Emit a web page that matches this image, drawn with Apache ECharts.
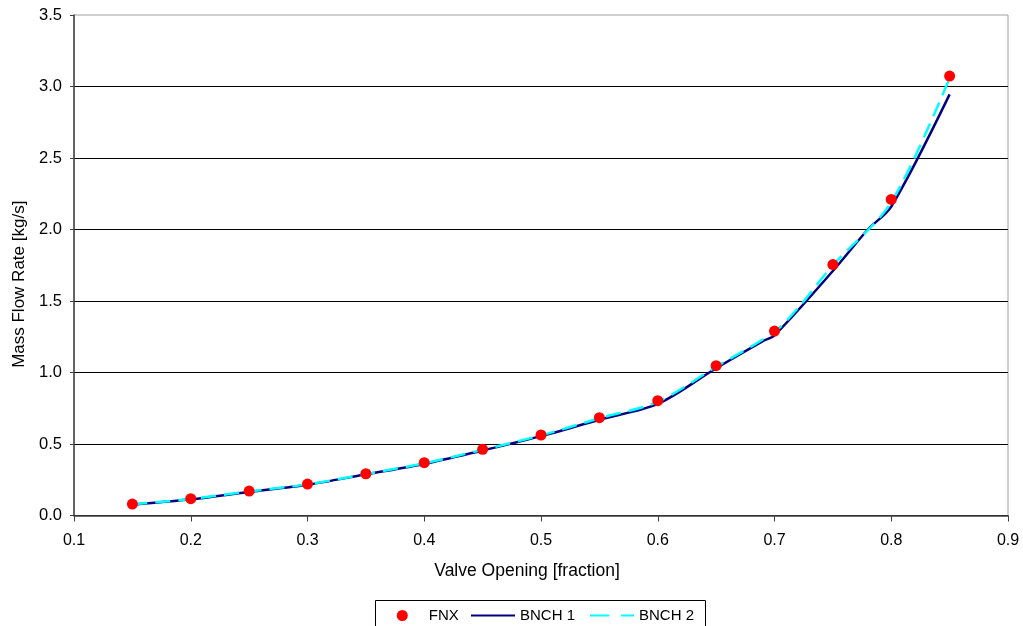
<!DOCTYPE html>
<html>
<head>
<meta charset="utf-8">
<script src="https://cdn.jsdelivr.net/npm/echarts@6/dist/echarts.min.js"></script>
<style>
  html, body { margin: 0; padding: 0; background: #fff; }
  #chart { width: 1023px; height: 626px; }
</style>
</head>
<body>
<div id="chart"></div>
<script>
// Data
const valveOpening = [0.15, 0.20, 0.25, 0.30, 0.35, 0.40, 0.45, 0.50, 0.55, 0.60, 0.65, 0.70, 0.75, 0.80, 0.85];
const fnx   = [0.080, 0.118, 0.171, 0.220, 0.292, 0.369, 0.463, 0.563, 0.684, 0.803, 1.048, 1.290, 1.755, 2.210, 3.073];

const bnch1X = [0.15, 0.20, 0.25, 0.30, 0.35, 0.40, 0.45, 0.50, 0.55, 0.60, 0.65, 0.69, 0.70, 0.75, 0.78, 0.80, 0.85];
const bnch1Y = [0.075, 0.113, 0.165, 0.215, 0.288, 0.360, 0.455, 0.555, 0.670, 0.780, 1.030, 1.220, 1.260, 1.710, 2.000, 2.160, 2.945];

const bnch2X = [0.15, 0.20, 0.25, 0.30, 0.35, 0.40, 0.45, 0.50, 0.55, 0.60, 0.65, 0.70, 0.72, 0.75, 0.80, 0.85];
const bnch2Y = [0.078, 0.116, 0.168, 0.218, 0.290, 0.365, 0.460, 0.560, 0.680, 0.795, 1.040, 1.285, 1.450, 1.750, 2.190, 3.060];

const xTicks = { min: 0.1, max: 0.9, interval: 0.1 };
const yTicks = { min: 0.0, max: 3.5, interval: 0.5 };

const zip = (xs, ys) => xs.map((x, i) => [x, ys[i]]);

const FONT = 'Liberation Sans, Arial, sans-serif';
const legendText = { fontFamily: FONT, fontSize: 15, color: '#000' };
const chart = echarts.init(document.getElementById('chart'), null, { renderer: 'canvas' });

chart.setOption({
  backgroundColor: '#ffffff',
  animation: false,
  grid: {
    left: 74, right: 15, top: 15, bottom: 110.5,
    show: true, borderColor: '#a0a0a0', borderWidth: 1
  },
  graphic: [{
    type: 'rect',
    z: 0,
    shape: { x: 375.5, y: 600.5, width: 330, height: 40 },
    style: { fill: '#fff', stroke: '#000', lineWidth: 1 }
  }],
  legend: [
    {
      left: 396.8, top: 608, padding: 0,
      itemWidth: 11, itemHeight: 11,
      textStyle: Object.assign({ padding: [0, 0, 0, 16] }, legendText),
      data: [{ name: 'FNX', icon: 'circle' }]
    },
    {
      left: 470, top: 608, padding: 0,
      itemWidth: 44, itemHeight: 11,
      itemStyle: { opacity: 0 },
      textStyle: legendText,
      data: [{ name: 'BNCH 1' }]
    },
    {
      left: 589, top: 608, padding: 0,
      itemWidth: 44, itemHeight: 11,
      itemStyle: { opacity: 0 },
      lineStyle: { type: [19, 12] },
      textStyle: legendText,
      data: [{ name: 'BNCH 2' }]
    }
  ],
  xAxis: {
    type: 'value',
    min: xTicks.min, max: xTicks.max, interval: xTicks.interval,
    name: 'Valve Opening [fraction]',
    nameLocation: 'middle',
    nameGap: 47,
    nameTextStyle: { fontFamily: FONT, fontSize: 17.5, color: '#000', padding: [0, 28, 0, 0] },
    axisLine: { show: true, onZero: false, lineStyle: { color: '#404040', width: 1.5 } },
    axisTick: { show: true, inside: false, length: 6, lineStyle: { color: '#404040' } },
    axisLabel: { fontFamily: FONT, fontSize: 16, color: '#000', margin: 17,
                 formatter: v => v.toFixed(1) },
    splitLine: { show: false }
  },
  yAxis: {
    type: 'value',
    min: yTicks.min, max: yTicks.max, interval: yTicks.interval,
    name: 'Mass Flow Rate [kg/s]',
    nameLocation: 'middle',
    nameGap: 45,
    nameTextStyle: { fontFamily: FONT, fontSize: 17, color: '#000', padding: [0, 38, 0, 0] },
    axisLine: { show: true, lineStyle: { color: '#404040', width: 1.5 } },
    axisTick: { show: true, inside: false, length: 4, lineStyle: { color: '#404040' } },
    axisLabel: { fontFamily: FONT, fontSize: 16.5, color: '#000', margin: 12,
                 formatter: v => v.toFixed(1) },
    splitLine: { show: true, showMaxLine: false, lineStyle: { color: '#000', width: 1 } }
  },
  series: [
    {
      name: 'BNCH 1',
      type: 'line',
      data: zip(bnch1X, bnch1Y),
      smooth: 0.3,
      symbol: 'none',
      lineStyle: { color: '#000080', width: 2.5 },
      itemStyle: { color: '#000080' },
      z: 2
    },
    {
      name: 'BNCH 2',
      type: 'line',
      data: zip(bnch2X, bnch2Y),
      smooth: 0.3,
      symbol: 'none',
      lineStyle: { color: '#00ffff', width: 2.5, type: [15, 8] },
      itemStyle: { color: '#00ffff' },
      z: 3
    },
    {
      name: 'FNX',
      type: 'scatter',
      data: zip(valveOpening, fnx),
      symbol: 'circle',
      symbolSize: 11,
      itemStyle: { color: '#ff0000', opacity: 1 },
      z: 4
    }
  ]
});
</script>
</body>
</html>
